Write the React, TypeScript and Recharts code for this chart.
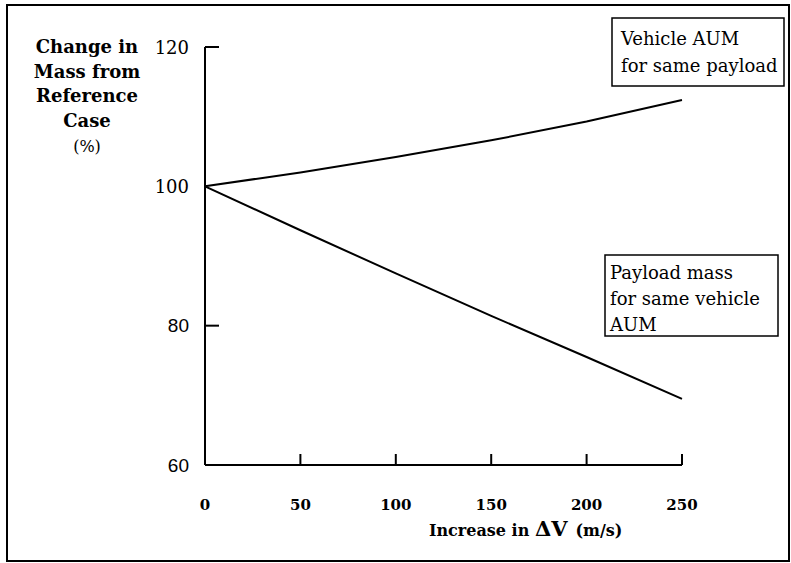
import React from "react";
import { LineChart, Line, XAxis, YAxis } from "recharts";

// increase in delta-V (m/s)
const deltaV = [0, 50, 100, 150, 200, 250];
// % of reference case
const vehicleAum = [100, 102.0, 104.2, 106.6, 109.3, 112.4];
const payloadMass = [100, 93.7, 87.5, 81.4, 75.5, 69.5];

const xTicks = [0, 50, 100, 150, 200, 250];
const yTicks = [60, 80, 100, 120];
const yTitle = ["Change in", "Mass from", "Reference", "Case"];

const data = deltaV.map((dv, i) => ({
  dv,
  vehicle: vehicleAum[i],
  payload: payloadMass[i],
}));

const W = 791;
const H = 563;
const SERIF = '"DejaVu Serif", serif';
const SANS = '"Liberation Sans", Arial, sans-serif';

// y ticks: short inward stubs, labels to the left
const YTick = (props: any) => {
  const { x, y, payload } = props;
  const v = payload.value;
  const sans = v < 100;
  return (
    <g>
      {(v === 80 || v === 120) && (
        <line x1={x} x2={x + 14} y1={y} y2={y} stroke="#000" strokeWidth={2} />
      )}
      <text
        x={x - 16}
        y={y}
        dy={6.5}
        textAnchor="end"
        fontFamily={sans ? SANS : SERIF}
        fontSize={sans ? 19 : 18}
        fill="#000"
      >
        {v}
      </text>
    </g>
  );
};

// x ticks point up into the plot
const XTick = (props: any) => {
  const { x, y, payload } = props;
  const v = payload.value;
  return (
    <g>
      {v > 0 && (
        <line x1={x} x2={x} y1={y} y2={y - 11} stroke="#000" strokeWidth={2} />
      )}
      <text
        x={x}
        y={y + 45}
        textAnchor="middle"
        fontFamily={SERIF}
        fontWeight="bold"
        fontSize={15}
        fill="#000"
      >
        {v}
      </text>
    </g>
  );
};

const App: React.FC = () => {
  return (
    <div
      style={{
        position: "absolute",
        left: 0,
        top: 0,
        width: W,
        height: H,
        background: "#fff",
      }}
    >
      <LineChart
        width={W}
        height={H}
        data={data}
        margin={{ top: 47, right: 109, left: 105, bottom: 38 }}
      >
        <XAxis
          dataKey="dv"
          type="number"
          domain={[0, 250]}
          ticks={xTicks}
          height={60}
          tickSize={0}
          tickMargin={0}
          tickLine={false}
          axisLine={{ stroke: "#000", strokeWidth: 2 }}
          tick={<XTick />}
        />
        <YAxis
          type="number"
          domain={[60, 120]}
          ticks={yTicks}
          width={100}
          tickSize={0}
          tickMargin={0}
          tickLine={false}
          axisLine={{ stroke: "#000", strokeWidth: 2 }}
          tick={<YTick />}
        />
        <Line
          type="linear"
          dataKey="vehicle"
          stroke="#000"
          strokeWidth={2}
          dot={false}
          isAnimationActive={false}
        />
        <Line
          type="linear"
          dataKey="payload"
          stroke="#000"
          strokeWidth={2}
          dot={false}
          isAnimationActive={false}
        />
      </LineChart>

      {/* frame, axis titles and curve callouts */}
      <svg
        width={W}
        height={H}
        style={{ position: "absolute", left: 0, top: 0, pointerEvents: "none" }}
      >
        <rect x={7} y={5} width={782} height={556} fill="none" stroke="#000" strokeWidth={2} />

        <g fontFamily={SERIF} fontWeight="bold" fontSize={18} textAnchor="middle" fill="#000">
          {yTitle.map((t, i) => (
            <text key={t} x={87} y={53 + i * 24.7}>
              {t}
            </text>
          ))}
        </g>
        <text x={87} y={152} textAnchor="middle" fontFamily={SERIF} fontSize={16} fill="#000">
          (%)
        </text>

        <text x={429} y={536} fontFamily={SERIF} fontWeight="bold" fontSize={16} fill="#000">
          Increase in{" "}
          <tspan fontSize={21}>ΔV</tspan>
          <tspan fontSize={16} dx={8}>(m/s)</tspan>
        </text>

        <rect x={612} y={18} width={172} height={68} fill="#fff" stroke="#000" strokeWidth={1.5} />
        <g fontFamily={SERIF} fontSize={18} fill="#000">
          <text x={621} y={45}>Vehicle AUM</text>
          <text x={621} y={72}>for same payload</text>
        </g>

        <rect x={605} y={255} width={173} height={81} fill="#fff" stroke="#000" strokeWidth={1.5} />
        <g fontFamily={SERIF} fontSize={18} fill="#000">
          <text x={610} y={279}>Payload mass</text>
          <text x={610} y={305}>for same vehicle</text>
          <text x={610} y={331}>AUM</text>
        </g>
      </svg>
    </div>
  );
};

export default App;
